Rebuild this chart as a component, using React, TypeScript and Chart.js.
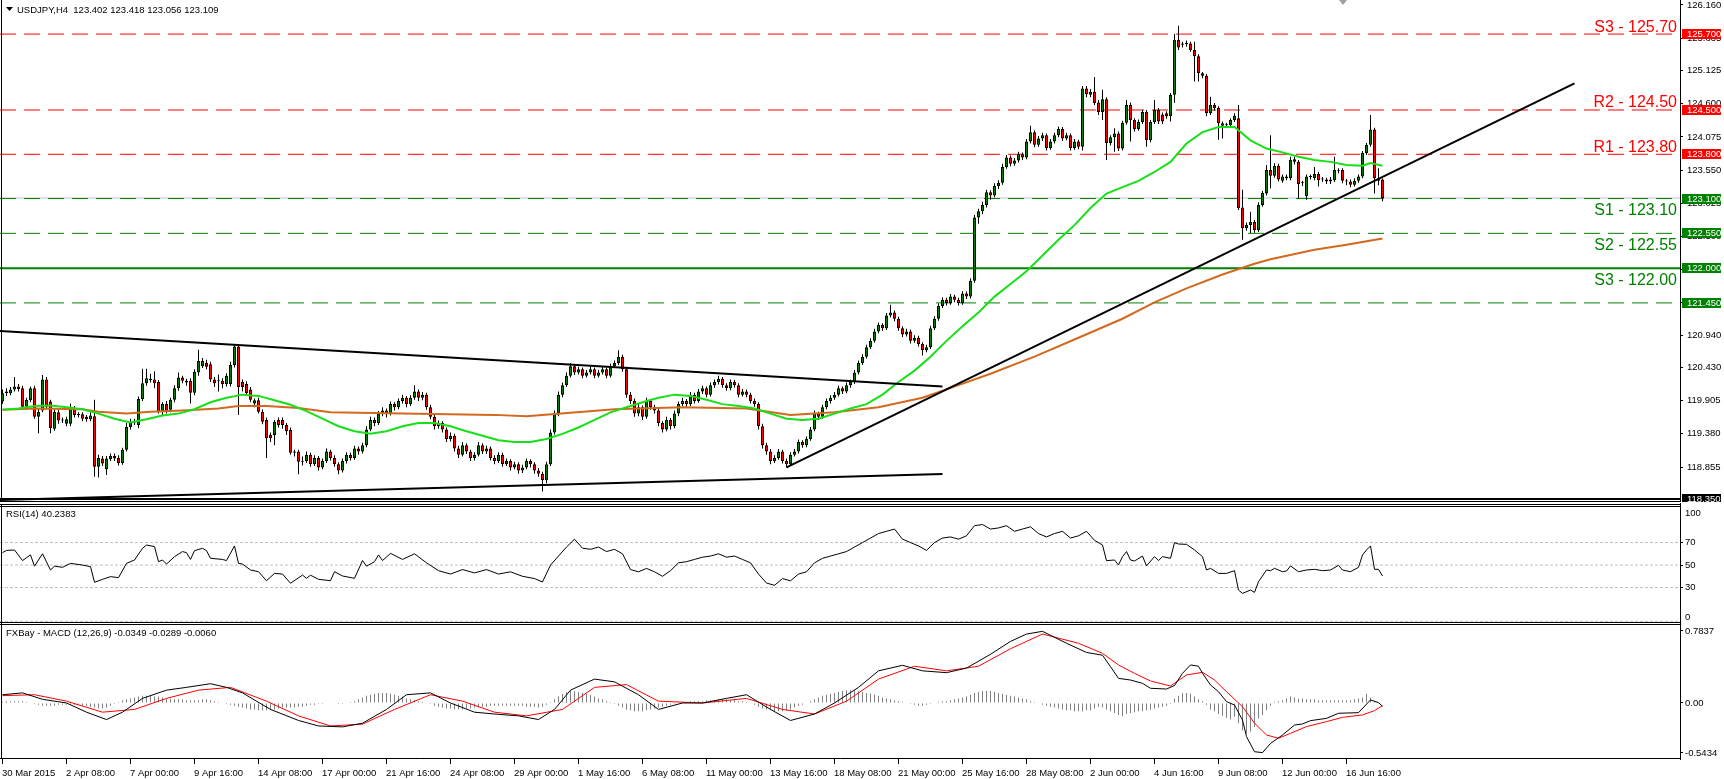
import React, { useEffect, useRef } from 'react';
import { Chart, registerables } from 'chart.js';

Chart.register(...registerables);

const FONT = '"Liberation Sans", Arial, sans-serif';
const X_MIN = -0.625;
const X_MAX = 419.375;
const AXIS_W = 44;

const SYMBOL = 'USDJPY,H4';
const RSI_TITLE = 'RSI(14) 40.2383';
const MACD_TITLE = 'FXBay - MACD (12,26,9) -0.0349 -0.0289 -0.0060';
const SHIFT_MARK_BAR = 335;

// ---- time axis ----
const dateTickBars = [0, 16, 32, 48, 64, 80, 96, 112, 128, 144, 160, 176, 192, 208, 224, 240, 256, 272, 288, 304, 320, 336];
const dateTickLabels = ['30 Mar 2015', '2 Apr 08:00', '7 Apr 00:00', '9 Apr 16:00', '14 Apr 08:00', '17 Apr 00:00', '21 Apr 16:00', '24 Apr 08:00', '29 Apr 00:00', '1 May 16:00', '6 May 08:00', '11 May 00:00', '13 May 16:00', '18 May 08:00', '21 May 00:00', '25 May 16:00', '28 May 08:00', '2 Jun 00:00', '4 Jun 16:00', '9 Jun 08:00', '12 Jun 00:00', '16 Jun 16:00'];

// ---- price axis ----
const priceTicks = [126.16, 125.635, 125.125, 124.6, 124.075, 123.55, 123.025, 122.5, 121.975, 121.45, 120.94, 120.43, 119.905, 119.38, 118.855];
const resistanceLevels = [125.7, 124.5, 123.8];
const resistanceNames = ['S3', 'R2', 'R1'];
const supportLevels = [123.1, 122.55, 122.0];
const supportNames = ['S1', 'S2', 'S3'];
const extraSupport = [121.45];
const floorLevel = 118.35;
const bidPrice = 123.109;

// ---- candles (H4) ----
const openP = [
  119.89,120.02,120.02,120.08,120.13,120.10,119.81,119.91,120.10,119.65,
  119.75,120.24,119.89,119.46,119.72,119.60,119.54,119.54,119.78,119.68,
  119.69,119.65,119.61,119.66,118.86,118.99,118.82,118.98,119.03,119.00,
  118.92,119.13,119.49,119.56,119.52,119.93,120.18,120.25,120.24,120.20,
  119.73,119.85,119.76,119.92,120.10,120.27,120.22,120.22,120.03,120.35,
  120.45,120.50,120.48,120.24,120.22,120.22,120.17,120.17,120.47,120.76,
  120.20,120.17,120.08,119.86,119.91,119.73,119.60,119.36,119.36,119.60,
  119.60,119.52,119.44,119.10,119.10,118.94,118.95,119.05,118.90,119.00,
  118.85,118.95,119.10,119.00,118.90,118.80,118.95,119.05,119.00,119.15,
  119.10,119.20,119.45,119.60,119.55,119.70,119.75,119.70,119.85,119.80,
  119.90,119.95,119.85,119.95,120.05,119.95,120.00,119.80,119.65,119.50,
  119.55,119.45,119.30,119.35,119.15,119.05,119.20,119.10,119.00,119.05,
  119.20,119.10,119.15,119.00,118.95,119.05,118.90,118.95,118.85,118.90,
  118.80,118.85,118.95,118.90,118.80,118.75,118.65,118.90,119.40,119.70,
  120.00,120.15,120.30,120.45,120.35,120.40,120.30,120.35,120.40,120.30,
  120.35,120.40,120.30,120.45,120.50,120.60,120.40,120.00,119.90,119.70,
  119.80,119.65,119.90,119.80,119.75,119.55,119.45,119.60,119.50,119.70,
  119.85,119.90,119.85,120.00,119.90,120.05,120.10,120.00,120.15,120.20,
  120.25,120.15,120.10,120.20,120.15,120.00,120.05,120.00,119.90,119.85,
  119.50,119.20,119.10,118.95,119.00,119.10,118.95,118.90,119.05,119.10,
  119.25,119.20,119.30,119.45,119.70,119.65,119.80,119.90,119.95,120.00,
  120.10,120.05,120.15,120.20,120.35,120.50,120.60,120.75,120.85,121.00,
  121.10,121.05,121.25,121.30,121.20,121.05,120.95,121.00,120.85,120.90,
  120.80,120.70,120.75,121.05,121.20,121.40,121.50,121.45,121.55,121.50,
  121.45,121.60,121.55,121.80,122.80,122.90,123.00,123.20,123.15,123.30,
  123.35,123.60,123.75,123.65,123.70,123.80,123.75,124.00,124.15,123.95,
  124.05,124.10,123.90,124.00,124.10,124.20,124.05,124.10,123.90,124.00,
  123.92,124.84,124.74,124.79,124.62,124.47,124.67,123.98,124.07,124.13,
  123.89,124.30,124.58,124.34,124.20,124.31,124.47,124.02,124.31,124.50,
  124.43,124.45,124.40,124.74,125.61,125.55,125.54,125.55,125.45,125.35,
  125.08,125.04,124.45,124.58,124.53,124.29,124.26,124.26,124.34,124.37,
  122.96,122.63,122.68,122.73,122.60,123.00,123.18,123.55,123.46,123.62,
  123.38,123.45,123.42,123.68,123.68,123.34,123.14,123.44,123.42,123.49,
  123.40,123.40,123.37,123.39,123.54,123.55,123.37,123.37,123.32,123.38,
  123.45,123.82,123.95,124.19,123.42,123.402,
];
const highP = [
  120.08,120.10,120.12,120.28,120.17,120.14,119.95,120.13,120.14,119.78,
  120.31,120.28,119.92,119.78,119.76,119.64,119.65,119.86,119.82,119.72,
  119.72,119.68,119.72,119.92,119.05,119.03,119.03,119.07,119.07,119.04,
  119.16,119.55,119.62,119.62,119.97,120.41,120.41,120.33,120.37,120.23,
  119.88,119.90,119.95,120.15,120.35,120.30,120.25,120.26,120.40,120.71,
  120.58,120.55,120.52,120.28,120.32,120.26,120.34,120.52,120.79,120.80,
  120.24,120.21,120.12,119.94,119.95,119.77,119.64,119.40,119.60,119.64,
  119.64,119.55,119.48,119.13,119.13,119.02,119.10,119.08,119.04,119.03,
  118.99,119.15,119.13,119.04,118.93,118.99,119.09,119.08,119.19,119.18,
  119.24,119.50,119.65,119.64,119.74,119.80,119.78,119.89,119.88,119.94,
  120.00,119.98,119.99,120.15,120.08,120.04,120.03,119.84,119.68,119.59,
  119.58,119.48,119.40,119.38,119.19,119.25,119.23,119.13,119.09,119.25,
  119.23,119.19,119.18,119.04,119.09,119.08,118.99,118.98,118.94,118.93,
  118.89,118.99,118.98,118.93,118.84,118.78,118.94,119.45,119.75,120.05,
  120.19,120.35,120.50,120.48,120.44,120.43,120.39,120.44,120.43,120.39,
  120.44,120.43,120.49,120.54,120.70,120.63,120.44,120.04,119.94,119.85,
  119.83,119.95,119.93,119.84,119.78,119.58,119.65,119.63,119.75,119.89,
  119.95,119.93,120.04,120.03,120.09,120.14,120.13,120.19,120.24,120.30,
  120.28,120.18,120.24,120.23,120.18,120.09,120.08,120.03,119.94,119.88,
  119.54,119.24,119.14,119.04,119.14,119.13,118.99,119.09,119.14,119.29,
  119.28,119.34,119.49,119.75,119.73,119.84,119.94,119.99,120.04,120.14,
  120.13,120.19,120.24,120.39,120.54,120.64,120.79,120.89,121.04,121.14,
  121.13,121.29,121.42,121.33,121.23,121.08,121.04,121.03,120.94,120.93,
  120.83,120.79,121.09,121.24,121.44,121.54,121.53,121.59,121.58,121.53,
  121.64,121.63,121.84,122.84,122.94,123.05,123.24,123.23,123.34,123.39,
  123.65,123.79,123.78,123.74,123.84,123.83,124.04,124.25,124.18,124.09,
  124.14,124.13,124.04,124.14,124.24,124.23,124.14,124.13,124.04,124.03,
  124.88,124.88,124.83,125.02,124.66,124.82,124.70,124.10,124.21,124.16,
  124.33,124.66,124.62,124.37,124.35,124.50,124.50,124.34,124.66,124.53,
  124.46,124.48,124.77,125.70,125.83,125.58,125.60,125.58,125.58,125.38,
  125.10,125.07,124.71,124.61,124.56,124.32,124.30,124.37,124.45,124.58,
  123.24,122.72,122.89,122.76,123.04,123.22,123.63,124.10,123.66,123.65,
  123.48,123.48,123.76,123.76,123.71,123.38,123.48,123.48,123.60,123.52,
  123.44,123.43,123.44,123.76,123.58,123.58,123.41,123.40,123.42,123.48,
  123.85,123.98,124.42,124.22,123.58,123.418,
];
const lowP = [
  119.85,119.98,119.99,120.05,120.05,119.78,119.76,119.88,119.62,119.39,
  119.72,119.77,119.39,119.43,119.54,119.55,119.50,119.50,119.64,119.64,
  119.58,119.57,119.58,118.70,118.69,118.87,118.73,118.95,118.95,118.88,
  118.89,119.10,119.45,119.52,119.47,119.90,120.14,120.19,120.10,119.70,
  119.68,119.70,119.72,119.88,120.06,120.18,120.14,119.86,119.99,120.30,
  120.42,120.40,120.20,120.12,120.05,120.10,120.13,120.13,120.43,119.68,
  120.05,119.98,119.88,119.80,119.70,119.53,119.00,119.25,119.20,119.48,
  119.46,119.36,119.05,119.02,118.74,118.88,118.92,118.86,118.87,118.80,
  118.82,118.92,118.96,118.86,118.74,118.77,118.91,118.96,118.97,119.05,
  119.07,119.17,119.42,119.50,119.52,119.66,119.64,119.67,119.75,119.77,
  119.86,119.80,119.82,119.92,119.90,119.91,119.76,119.61,119.45,119.46,
  119.40,119.25,119.26,119.10,119.00,119.02,119.06,118.95,118.96,119.02,
  119.06,119.06,118.96,118.90,118.92,118.86,118.87,118.80,118.82,118.75,
  118.76,118.82,118.85,118.75,118.70,118.47,118.60,118.87,119.37,119.66,
  119.96,120.12,120.27,120.31,120.32,120.26,120.27,120.32,120.26,120.27,
  120.32,120.26,120.27,120.42,120.47,120.36,119.95,119.85,119.65,119.66,
  119.60,119.62,119.76,119.70,119.50,119.40,119.42,119.45,119.47,119.66,
  119.82,119.80,119.82,119.86,119.87,120.01,119.96,119.97,120.11,120.16,
  120.11,120.06,120.07,120.11,119.96,119.97,119.96,119.86,119.81,119.45,
  119.15,119.05,118.90,118.92,118.97,118.91,118.85,118.87,119.02,119.07,
  119.16,119.17,119.27,119.42,119.60,119.62,119.77,119.86,119.92,119.97,
  120.01,120.02,120.11,120.17,120.32,120.47,120.57,120.72,120.82,120.97,
  121.01,121.02,121.22,121.16,121.01,120.91,120.92,120.81,120.82,120.76,
  120.62,120.67,120.72,121.02,121.17,121.37,121.41,121.42,121.46,121.41,
  121.42,121.51,121.52,121.77,122.70,122.85,122.96,123.08,123.12,123.25,
  123.32,123.57,123.61,123.62,123.67,123.71,123.72,123.97,123.91,123.92,
  124.01,123.86,123.87,123.97,124.07,124.01,124.02,123.86,123.87,123.88,
  123.86,124.70,124.70,124.58,124.42,124.34,123.71,123.94,123.84,123.85,
  123.86,124.27,124.00,124.16,124.17,124.28,123.92,123.99,124.28,124.28,
  124.28,124.36,124.32,124.61,125.45,125.49,125.50,125.42,124.95,124.95,
  125.00,124.40,124.42,124.49,124.03,124.05,124.22,124.22,124.31,122.92,
  122.45,122.59,122.55,122.56,122.57,122.97,123.15,123.26,123.43,123.37,
  123.35,123.39,123.39,123.64,123.10,123.30,123.08,123.40,123.39,123.29,
  123.36,123.33,123.33,123.36,123.50,123.34,123.31,123.28,123.29,123.35,
  123.42,123.79,123.92,123.18,123.31,123.056,
];
const closeP = [
  120.02,120.05,120.08,120.13,120.09,119.81,119.92,120.10,119.65,119.73,
  120.24,119.81,119.47,119.73,119.59,119.59,119.61,119.79,119.68,119.68,
  119.62,119.61,119.67,118.86,119.00,118.91,118.99,119.03,118.99,118.92,
  119.13,119.49,119.56,119.57,119.93,120.18,120.26,120.23,120.18,119.73,
  119.85,119.73,119.92,120.10,120.27,120.22,120.19,120.03,120.36,120.53,
  120.53,120.44,120.24,120.18,120.21,120.17,120.30,120.47,120.76,120.12,
  120.12,120.02,119.92,119.91,119.73,119.57,119.31,119.31,119.57,119.52,
  119.52,119.42,119.08,119.08,118.94,118.95,119.05,118.90,119.00,118.85,
  118.95,119.10,119.00,118.90,118.80,118.95,119.05,119.00,119.15,119.10,
  119.20,119.45,119.60,119.55,119.70,119.75,119.70,119.85,119.80,119.90,
  119.95,119.85,119.95,120.05,119.95,120.00,119.80,119.65,119.50,119.55,
  119.45,119.30,119.35,119.15,119.05,119.20,119.10,119.00,119.05,119.20,
  119.10,119.15,119.00,118.95,119.05,118.90,118.95,118.85,118.90,118.80,
  118.85,118.95,118.90,118.80,118.75,118.65,118.90,119.40,119.70,120.00,
  120.15,120.30,120.45,120.35,120.40,120.30,120.35,120.40,120.30,120.35,
  120.40,120.30,120.45,120.50,120.60,120.40,120.00,119.90,119.70,119.80,
  119.65,119.90,119.80,119.75,119.55,119.45,119.60,119.50,119.70,119.85,
  119.90,119.85,120.00,119.90,120.05,120.10,120.00,120.15,120.20,120.25,
  120.15,120.10,120.20,120.15,120.00,120.05,120.00,119.90,119.85,119.50,
  119.20,119.10,118.95,119.00,119.10,118.95,118.90,119.05,119.10,119.25,
  119.20,119.30,119.45,119.70,119.65,119.80,119.90,119.95,120.00,120.10,
  120.05,120.15,120.20,120.35,120.50,120.60,120.75,120.85,121.00,121.10,
  121.05,121.25,121.30,121.20,121.05,120.95,121.00,120.85,120.90,120.80,
  120.70,120.75,121.05,121.20,121.40,121.50,121.45,121.55,121.50,121.45,
  121.60,121.55,121.80,122.80,122.90,123.00,123.20,123.15,123.30,123.35,
  123.60,123.75,123.65,123.70,123.80,123.75,124.00,124.15,123.95,124.05,
  124.10,123.90,124.00,124.10,124.20,124.05,124.10,123.90,124.00,123.92,
  124.84,124.75,124.79,124.61,124.47,124.67,123.98,124.07,124.13,123.89,
  124.30,124.58,124.34,124.20,124.31,124.47,124.02,124.31,124.50,124.32,
  124.32,124.40,124.74,125.61,125.49,125.53,125.56,125.45,125.35,125.08,
  125.04,124.45,124.58,124.53,124.29,124.25,124.26,124.34,124.41,122.95,
  122.63,122.68,122.73,122.60,123.00,123.19,123.55,123.46,123.62,123.40,
  123.45,123.42,123.71,123.72,123.33,123.34,123.45,123.44,123.49,123.39,
  123.40,123.37,123.40,123.55,123.54,123.38,123.37,123.32,123.38,123.45,
  123.82,123.95,124.19,123.42,123.38,123.109,
];

// ---- moving averages: [bar, value] ----
const ma50: [number, number][] = [
  [0,119.76],[4,119.78],[8,119.82],[12,119.83],[16,119.80],[20,119.77],[24,119.70],[28,119.62],[32,119.56],[36,119.61],
  [40,119.67],[44,119.70],[48,119.77],[52,119.88],[56,119.95],[60,120.0],[64,119.98],[68,119.91],[72,119.84],[76,119.74],
  [80,119.62],[84,119.50],[88,119.42],[92,119.38],[96,119.42],[100,119.50],[104,119.55],[108,119.55],[112,119.50],[116,119.42],
  [120,119.35],[124,119.28],[128,119.25],[132,119.25],[136,119.30],[140,119.38],[144,119.48],[148,119.60],[152,119.72],[156,119.80],
  [160,119.88],[164,119.95],[168,120.00],[172,119.98],[176,119.92],[180,119.85],[184,119.82],[188,119.78],[192,119.70],[196,119.62],
  [200,119.60],[204,119.62],[208,119.70],[212,119.78],[216,119.85],[220,120.0],[224,120.2],[228,120.38],[232,120.6],[236,120.85],
  [240,121.08],[244,121.3],[248,121.55],[252,121.75],[256,121.95],[260,122.2],[264,122.45],[268,122.68],[272,122.95],[276,123.18],
  [280,123.28],[284,123.38],[288,123.52],[292,123.68],[296,123.97],[300,124.15],[304,124.23],[308,124.23],[312,124.02],[316,123.89],
  [320,123.83],[324,123.76],[328,123.71],[332,123.68],[336,123.63],[340,123.62],[342,123.66],[345,123.62],
];
const ma200: [number, number][] = [
  [0,119.76],[8,119.78],[20,119.77],[24,119.73],[31,119.70],[37,119.73],[45,119.75],[54,119.78],[59,119.82],[66,119.82],
  [74,119.79],[82,119.72],[100,119.70],[123,119.68],[131,119.66],[153,119.77],[170,119.80],[186,119.78],[197,119.68],[208,119.72],
  [219,119.80],[230,119.95],[239,120.15],[247,120.33],[258,120.6],[269,120.9],[280,121.2],[288,121.46],[296,121.68],[305,121.9],
  [313,122.07],[317,122.14],[328,122.29],[336,122.37],[345,122.47],
];

// ---- trend lines: [bar, price] ----
const triangleUpper: [number, number][] = [[-0.625, 121.006], [235, 120.13]];
const triangleLower: [number, number][] = [[-0.625, 118.334], [235, 118.745]];
const risingTrend: [number, number][] = [[196, 118.85], [393, 124.92]];

// ---- RSI(14): [bar, value] ----
const rsiPts: [number, number][] = [
  [0,61],[1,63],[3,63.4],[5,54],[7,59],[8,49],[10,60],[12,45.6],[13,49],[15,48],[17,51.5],[20,50],[22,48.6],[23,34.7],
  [25,37.3],[27,39.7],[29,38.8],[31,51.5],[33,54.5],[35,64.9],[36,67.8],[38,66.4],[39,53],[40,54.5],[41,50.9],[43,57.5],
  [45,62],[46,61],[47,55],[48,62.8],[50,64.9],[51,62.8],[52,56],[55,55],[56,54],[58,67],[59,51.5],[60,50.9],[62,45.6],
  [64,44.1],[66,36.1],[68,42.6],[70,42],[72,33.8],[75,41.1],[76,38.2],[77,41],[79,37.3],[82,36.1],[83,44.1],[85,40.3],
  [88,38.2],[90,54],[91,49],[93,53],[94,59],[95,54],[97,60.4],[100,55],[103,60],[106,52],[109,45],[112,42],[115,46],
  [118,43],[121,46],[124,42],[127,44],[130,40],[133,38],[135,35],[137,50],[139,58],[141,66],[143,73],[145,65],[147,64],
  [149,66],[151,62],[153,64],[155,60],[157,46],[159,44],[161,47],[163,44],[165,40],[167,45],[169,52],[171,53],[173,55],
  [175,57],[177,58],[179,60],[181,57],[183,58],[185,55],[187,52],[189,42],[191,34],[193,32],[195,38],[197,36],[199,42],
  [201,44],[203,52],[205,56],[207,58],[209,60],[211,62],[213,66],[215,70],[217,74],[219,78],[221,80],[223,82],[225,73],
  [227,70],[229,67],[231,63],[233,70],[235,74],[237,75],[239,73],[241,76],[243,85],[245,86],[247,82],[249,83],[251,85],
  [253,80],[255,82],[257,84],[259,78],[261,75],[263,78],[265,80],[267,74],[269,76],[271,80],[273,72],[275,67.8],[276,53.9],
  [278,54.5],[279,50.1],[280,57.5],[281,62],[282,54.5],[283,53.6],[285,58],[286,49.2],[288,57.5],[289,54],[290,57.5],
  [292,56],[293,69.9],[294,68.7],[296,68.4],[298,63.4],[300,57.5],[301,45.6],[302,47.1],[304,42.6],[306,42.6],[308,45],
  [309,27.8],[310,24.8],[312,27.8],[313,25.7],[314,35.2],[316,45.6],[317,45],[318,47.1],[320,44.1],[321,44.7],[322,49.2],
  [324,44.1],[326,45.6],[328,46.2],[330,45],[332,45.6],[334,49.8],[335,45.6],[337,44.1],[339,48],[340,59],[341,63.4],
  [342,67],[343,46.2],[344,46.2],[345,40.24],
];
const rsiTicks = [70, 50, 30];
const rsiLabelValues = [100, 70, 50, 30, 0];
const rsiLevels = [70, 50, 30, 0];

// ---- MACD (12,26,9) ----
const macdPts: [number, number][] = [
  [0,0.09],[5,0.11],[10,0.04],[16,0.0],[21,-0.10],[26,-0.18],[30,-0.10],[35,0.05],[41,0.14],[46,0.17],[52,0.21],[56,0.17],
  [60,0.11],[67,-0.07],[74,-0.19],[79,-0.25],[85,-0.26],[90,-0.22],[96,-0.07],[101,0.09],[107,0.11],[112,0.0],[118,-0.10],
  [123,-0.12],[129,-0.14],[134,-0.18],[138,-0.07],[142,0.14],[148,0.26],[153,0.23],[159,0.09],[164,-0.07],[170,0.0],
  [175,0.0],[181,0.05],[186,0.09],[192,-0.07],[197,-0.19],[203,-0.12],[208,0.0],[214,0.17],[219,0.35],[225,0.41],[230,0.35],
  [236,0.33],[241,0.38],[247,0.53],[252,0.67],[256,0.75],[260,0.78],[266,0.65],[271,0.55],[275,0.52],[277,0.395],[279,0.268],
  [282,0.25],[285,0.214],[287,0.16],[291,0.152],[293,0.19],[295,0.323],[297,0.414],[299,0.40],[300,0.323],[302,0.196],
  [304,0.123],[306,0.015],[308,-0.022],[310,-0.185],[311,-0.366],[313,-0.53],[315,-0.54],[317,-0.44],[320,-0.348],
  [323,-0.24],[325,-0.228],[327,-0.192],[331,-0.167],[334,-0.112],[339,-0.105],[342,0.033],[344,0.004],[345,-0.035],
];
const signalPts: [number, number][] = [
  [0,0.08],[8,0.09],[16,0.02],[25,-0.10],[33,-0.07],[41,0.05],[49,0.14],[57,0.17],[66,0.02],[74,-0.14],[82,-0.25],
  [90,-0.23],[98,-0.07],[107,0.09],[115,0.02],[123,-0.10],[131,-0.14],[140,-0.07],[148,0.17],[156,0.20],[164,0.02],
  [175,0.0],[186,0.05],[195,-0.07],[203,-0.12],[211,0.02],[219,0.26],[228,0.40],[236,0.35],[244,0.40],[252,0.59],
  [260,0.75],[269,0.65],[275,0.54],[279,0.414],[283,0.323],[287,0.24],[292,0.185],[296,0.305],[300,0.334],[303,0.25],
  [306,0.123],[310,-0.04],[313,-0.22],[316,-0.348],[319,-0.384],[322,-0.33],[326,-0.257],[331,-0.203],[335,-0.156],
  [340,-0.13],[343,-0.083],[345,-0.029],
];
const histVals = [
  0.01,0.02,0.02,0.02,0.02,0.02,0.01,0.0,
  -0.01,-0.02,-0.03,-0.03,-0.03,-0.03,-0.02,-0.02,
  -0.02,-0.02,-0.02,-0.02,-0.03,-0.03,-0.04,-0.05,
  -0.06,-0.06,-0.05,-0.03,-0.01,0.01,0.03,0.04,
  0.05,0.06,0.07,0.08,0.08,0.08,0.07,0.07,
  0.06,0.05,0.05,0.04,0.04,0.04,0.03,0.03,
  0.03,0.03,0.04,0.04,0.03,0.02,0.01,0.0,
  -0.01,-0.02,-0.03,-0.04,-0.05,-0.06,-0.07,-0.07,
  -0.08,-0.08,-0.08,-0.07,-0.07,-0.06,-0.05,-0.05,
  -0.05,-0.05,-0.04,-0.04,-0.03,-0.02,-0.02,-0.01,
  -0.01,0.0,0.0,0.0,-0.01,-0.01,0.0,0.01,
  0.02,0.04,0.06,0.08,0.09,0.10,0.11,0.11,
  0.11,0.10,0.09,0.08,0.07,0.05,0.04,0.03,
  0.02,0.01,0.0,-0.01,-0.03,-0.04,-0.05,-0.06,
  -0.06,-0.07,-0.07,-0.07,-0.06,-0.06,-0.05,-0.05,
  -0.04,-0.04,-0.03,-0.03,-0.03,-0.03,-0.03,-0.03,
  -0.03,-0.03,-0.03,-0.04,-0.04,-0.04,-0.05,-0.04,
  -0.02,0.01,0.04,0.07,0.10,0.12,0.13,0.13,
  0.12,0.11,0.10,0.09,0.07,0.05,0.04,0.02,
  0.01,-0.01,-0.03,-0.05,-0.07,-0.08,-0.09,-0.09,
  -0.09,-0.08,-0.07,-0.06,-0.05,-0.04,-0.03,-0.02,
  -0.01,0.0,0.01,0.01,0.02,0.02,0.02,0.02,
  0.03,0.03,0.03,0.04,0.04,0.04,0.03,0.03,
  0.02,0.02,0.01,0.0,-0.02,-0.04,-0.06,-0.07,
  -0.08,-0.09,-0.09,-0.09,-0.08,-0.07,-0.05,-0.03,
  -0.02,0.0,0.02,0.04,0.06,0.08,0.09,0.10,
  0.11,0.12,0.13,0.14,0.14,0.14,0.13,0.12,
  0.11,0.10,0.09,0.08,0.06,0.05,0.04,0.03,
  0.02,0.01,0.0,-0.01,-0.02,-0.03,-0.03,-0.02,
  -0.01,0.0,0.01,0.02,0.02,0.03,0.04,0.05,
  0.06,0.07,0.09,0.11,0.12,0.13,0.13,0.13,
  0.12,0.11,0.10,0.09,0.08,0.07,0.06,0.05,
  0.04,0.02,0.01,0.0,-0.02,-0.03,-0.04,-0.05,
  -0.06,-0.07,-0.08,-0.08,-0.09,-0.09,-0.09,-0.08,
  -0.08,-0.06,-0.04,-0.05,-0.07,-0.09,-0.11,-0.13,
  -0.145,-0.12,-0.11,-0.10,-0.09,-0.09,-0.08,-0.07,
  -0.06,-0.05,-0.04,-0.03,-0.01,0.05,0.08,0.11,
  0.11,0.10,0.07,0.04,0.02,-0.02,-0.07,-0.09,
  -0.12,-0.14,-0.16,-0.18,-0.15,-0.22,-0.30,-0.33,
  -0.31,-0.26,-0.17,-0.13,-0.08,-0.03,0.01,0.02,
  0.03,0.05,0.07,0.06,0.05,0.05,0.04,0.04,
  0.04,0.03,0.03,0.03,0.03,0.03,0.03,0.03,
  0.03,0.03,0.04,0.05,0.06,0.10,0.06,0.02,
  0.01,-0.006,
];
const macdTicks = [0.7837, 0, -0.5434];
const macdTickLabels = ['0.7837', '0.00', '-0.5434'];

// ---- styles ----
const RED = '#ff0000';
const GREEN = '#008000';
const LIME = '#18e018';
const ORANGE = '#d2691e';
const BULL = '#008000';
const BEAR = '#ff0000';

function hLine(v: number, color: string, width: number, dash: number[], order: number) {
  return {
    type: 'line' as const,
    data: [{ x: X_MIN, y: v }, { x: X_MAX, y: v }],
    borderColor: color, borderWidth: width, borderDash: dash,
    pointRadius: 0, order, fill: false,
  };
}
function ptsLine(pts: [number, number][], color: string, width: number, order: number) {
  return {
    type: 'line' as const,
    data: pts.map(([x, y]) => ({ x, y })),
    borderColor: color, borderWidth: width,
    pointRadius: 0, tension: 0, order, fill: false,
  };
}
function xAxisHidden() {
  return { type: 'linear' as const, min: X_MIN, max: X_MAX, display: false, offset: false };
}
function yAxis(min: number, max: number, tickVals: number[]) {
  return {
    type: 'linear' as const, position: 'right' as const, min, max, beginAtZero: false,
    afterFit: (s: any) => { s.width = AXIS_W; },
    afterBuildTicks: (s: any) => { s.ticks = tickVals.map((v) => ({ value: v })); },
    ticks: { display: false },
    grid: { drawOnChartArea: false, drawTicks: true, tickLength: 3, color: '#000' },
    border: { display: true, color: '#000', width: 1 },
  };
}
const baseOpts = {
  responsive: false,
  animation: false as const,
  devicePixelRatio: 1,
  events: [] as any[],
  layout: { padding: 0 },
  plugins: { legend: { display: false }, tooltip: { enabled: false } },
};

function mainConfig(): any {
  const bodyColors = closeP.map((c, i) => (c >= openP[i] ? BULL : BEAR));
  const deco = {
    id: 'mainDeco',
    afterDraw(chart: any) {
      const { ctx, chartArea: ca } = chart;
      const ys = chart.scales.y;
      const xs = chart.scales.x;
      ctx.save();
      ctx.strokeStyle = '#000';
      ctx.lineWidth = 1;
      ctx.beginPath();
      ctx.moveTo(1.5, 0); ctx.lineTo(1.5, ca.bottom);
      ctx.moveTo(0, ca.bottom - 0.5); ctx.lineTo(ca.right, ca.bottom - 0.5);
      ctx.stroke();
      // chart-shift marker
      const sx = Math.round(xs.getPixelForValue(SHIFT_MARK_BAR));
      ctx.fillStyle = '#a0a0a0';
      ctx.beginPath(); ctx.moveTo(sx - 4, 0); ctx.lineTo(sx + 4, 0); ctx.lineTo(sx, 5); ctx.closePath(); ctx.fill();
      // header
      ctx.fillStyle = '#000';
      ctx.beginPath(); ctx.moveTo(6, 7); ctx.lineTo(13, 7); ctx.lineTo(9.5, 11); ctx.closePath(); ctx.fill();
      ctx.font = `9.5px ${FONT}`;
      ctx.textBaseline = 'middle';
      ctx.textAlign = 'left';
      const n = closeP.length - 1;
      ctx.fillText(`${SYMBOL}  ${openP[n].toFixed(3)} ${highP[n].toFixed(3)} ${lowP[n].toFixed(3)} ${closeP[n].toFixed(3)}`, 17, 10);
      // price labels
      for (const v of priceTicks) ctx.fillText(v.toFixed(3), ca.right + 7, ys.getPixelForValue(v));
      // level boxes
      const boxes: [number, string][] = [
        ...resistanceLevels.map((v) => [v, RED] as [number, string]),
        ...supportLevels.map((v) => [v, GREEN] as [number, string]),
        ...extraSupport.map((v) => [v, GREEN] as [number, string]),
        [floorLevel, '#000'],
      ];
      for (const [v, col] of boxes) {
        const y = Math.round(ys.getPixelForValue(v));
        ctx.fillStyle = col;
        ctx.fillRect(ca.right + 2, y - 5, 39, 10);
        ctx.fillStyle = '#fff';
        ctx.fillText(v.toFixed(3), ca.right + 7, y);
      }
      // annotations
      ctx.font = `16px Arial, ${FONT}`;
      ctx.textAlign = 'right';
      ctx.textBaseline = 'alphabetic';
      resistanceLevels.forEach((v, i) => {
        ctx.fillStyle = RED;
        ctx.fillText(`${resistanceNames[i]} - ${v.toFixed(2)}`, ca.right - 3, ys.getPixelForValue(v) - 2.5);
      });
      supportLevels.forEach((v, i) => {
        ctx.fillStyle = GREEN;
        ctx.fillText(`${supportNames[i]} - ${v.toFixed(2)}`, ca.right - 3, ys.getPixelForValue(v) + 16.5);
      });
      ctx.restore();
    },
  };
  return {
    type: 'bar',
    data: {
      datasets: [
        ...resistanceLevels.map((v) => hLine(v, RED, 1, [16, 8], 20)),
        hLine(bidPrice, '#c0c0c0', 1, [], 21),
        hLine(supportLevels[0], GREEN, 1, [16, 8], 20),
        hLine(supportLevels[1], GREEN, 1, [16, 8], 20),
        hLine(supportLevels[2], GREEN, 2, [], 20),
        ...extraSupport.map((v) => hLine(v, GREEN, 1, [16, 8], 20)),
        hLine(floorLevel, '#000', 2, [], 20),
        {
          type: 'bar', data: lowP.map((l, i) => ({ x: i, y: [l, highP[i]] })),
          backgroundColor: '#000', barThickness: 1, grouped: false, inflateAmount: 0, order: 8,
        },
        {
          type: 'bar', data: openP.map((o, i) => ({ x: i, y: [o, closeP[i]] })),
          backgroundColor: bodyColors, borderColor: '#000', borderWidth: 1, borderSkipped: false,
          barThickness: 3, grouped: false, inflateAmount: 0, minBarLength: 1, order: 7,
        },
        ptsLine(ma200, ORANGE, 2, 4),
        ptsLine(ma50, LIME, 2, 3),
        ptsLine(triangleUpper, '#000', 2, 1),
        ptsLine(triangleLower, '#000', 2, 1),
        ptsLine(risingTrend, '#000', 2, 1),
      ],
    },
    options: {
      ...baseOpts,
      scales: { x: xAxisHidden(), y: yAxis(118.3026, 126.239, priceTicks) },
    },
    plugins: [deco],
  };
}

function rsiConfig(): any {
  const deco = {
    id: 'rsiDeco',
    afterDraw(chart: any) {
      const { ctx, chartArea: ca } = chart;
      const ys = chart.scales.y;
      ctx.save();
      ctx.strokeStyle = '#000';
      ctx.lineWidth = 1;
      ctx.beginPath();
      ctx.moveTo(0, 1.5); ctx.lineTo(ca.right, 1.5);
      ctx.moveTo(0, 3.5); ctx.lineTo(ca.right, 3.5);
      ctx.moveTo(1.5, 1); ctx.lineTo(1.5, ca.bottom);
      ctx.moveTo(0, ca.bottom - 1.5); ctx.lineTo(ca.right, ca.bottom - 1.5);
      ctx.stroke();
      ctx.fillStyle = '#000';
      ctx.font = `9.5px ${FONT}`;
      ctx.textBaseline = 'middle';
      ctx.textAlign = 'left';
      ctx.fillText(RSI_TITLE, 6, 11.5);
      for (const v of rsiLabelValues) {
        const y = Math.min(Math.max(ys.getPixelForValue(v), ca.top + 10), ca.bottom - 7);
        ctx.fillText(String(v), ca.right + 5, y);
      }
      ctx.restore();
    },
  };
  return {
    type: 'line',
    data: {
      datasets: [
        ...rsiLevels.map((v) => hLine(v, '#c0c0c0', 1, [3, 2], 10)),
        ptsLine(rsiPts, '#000', 1, 1),
      ],
    },
    options: {
      ...baseOpts,
      scales: { x: xAxisHidden(), y: yAxis(-2.4, 105.16, rsiTicks) },
    },
    plugins: [deco],
  };
}

function macdConfig(): any {
  const deco = {
    id: 'macdDeco',
    afterDraw(chart: any) {
      const { ctx, chartArea: ca } = chart;
      const ys = chart.scales.y;
      const xs = chart.scales.x;
      ctx.save();
      ctx.strokeStyle = '#000';
      ctx.lineWidth = 1;
      ctx.beginPath();
      ctx.moveTo(0, 0.5); ctx.lineTo(ca.right, 0.5);
      ctx.moveTo(1.5, 0); ctx.lineTo(1.5, ca.bottom);
      ctx.moveTo(0, ca.bottom - 0.5); ctx.lineTo(ca.right + 0.5, ca.bottom - 0.5);
      ctx.stroke();
      ctx.fillStyle = '#000';
      ctx.font = `9.5px ${FONT}`;
      ctx.textBaseline = 'middle';
      ctx.textAlign = 'left';
      ctx.fillText(MACD_TITLE, 6, 9.5);
      macdTicks.forEach((v, i) => ctx.fillText(macdTickLabels[i], ca.right + 5, ys.getPixelForValue(v)));
      dateTickBars.forEach((b, i) => ctx.fillText(dateTickLabels[i], Math.max(xs.getPixelForValue(b) - 0.5, 1), ca.bottom + 14));
      ctx.restore();
    },
  };
  return {
    type: 'bar',
    data: {
      datasets: [
        {
          type: 'bar', data: histVals.map((h, i) => ({ x: i, y: h })),
          backgroundColor: '#808080', barThickness: 1, grouped: false, inflateAmount: 0, order: 5,
        },
        ptsLine(signalPts, RED, 1, 2),
        ptsLine(macdPts, '#000', 1, 1),
      ],
    },
    options: {
      ...baseOpts,
      scales: {
        x: {
          type: 'linear', min: X_MIN, max: X_MAX, offset: false, position: 'bottom',
          afterFit: (s: any) => { s.height = 20; },
          afterBuildTicks: (s: any) => { s.ticks = dateTickBars.map((v) => ({ value: v })); },
          ticks: { display: false },
          grid: { drawOnChartArea: false, drawTicks: true, tickLength: 5, color: '#000', offset: false },
          border: { display: false },
        },
        y: yAxis(-0.6094, 0.8596, macdTicks),
      },
    },
    plugins: [deco],
  };
}

export default function App() {
  const mainRef = useRef<HTMLCanvasElement>(null);
  const rsiRef = useRef<HTMLCanvasElement>(null);
  const macdRef = useRef<HTMLCanvasElement>(null);

  useEffect(() => {
    const charts: Chart[] = [];
    if (mainRef.current) charts.push(new Chart(mainRef.current, mainConfig()));
    if (rsiRef.current) charts.push(new Chart(rsiRef.current, rsiConfig()));
    if (macdRef.current) charts.push(new Chart(macdRef.current, macdConfig()));
    return () => charts.forEach((c) => c.destroy());
  }, []);

  const cv = (top: number, h: number) => ({ position: 'absolute' as const, left: 0, top, width: 1724, height: h });
  return (
    <div style={{ position: 'absolute', left: 0, top: 0, width: 1724, height: 779, background: '#fff', overflow: 'hidden' }}>
      <canvas ref={mainRef} width={1724} height={502} style={cv(0, 502)} />
      <canvas ref={rsiRef} width={1724} height={121} style={cv(503, 121)} />
      <canvas ref={macdRef} width={1724} height={155} style={cv(624, 155)} />
    </div>
  );
}
